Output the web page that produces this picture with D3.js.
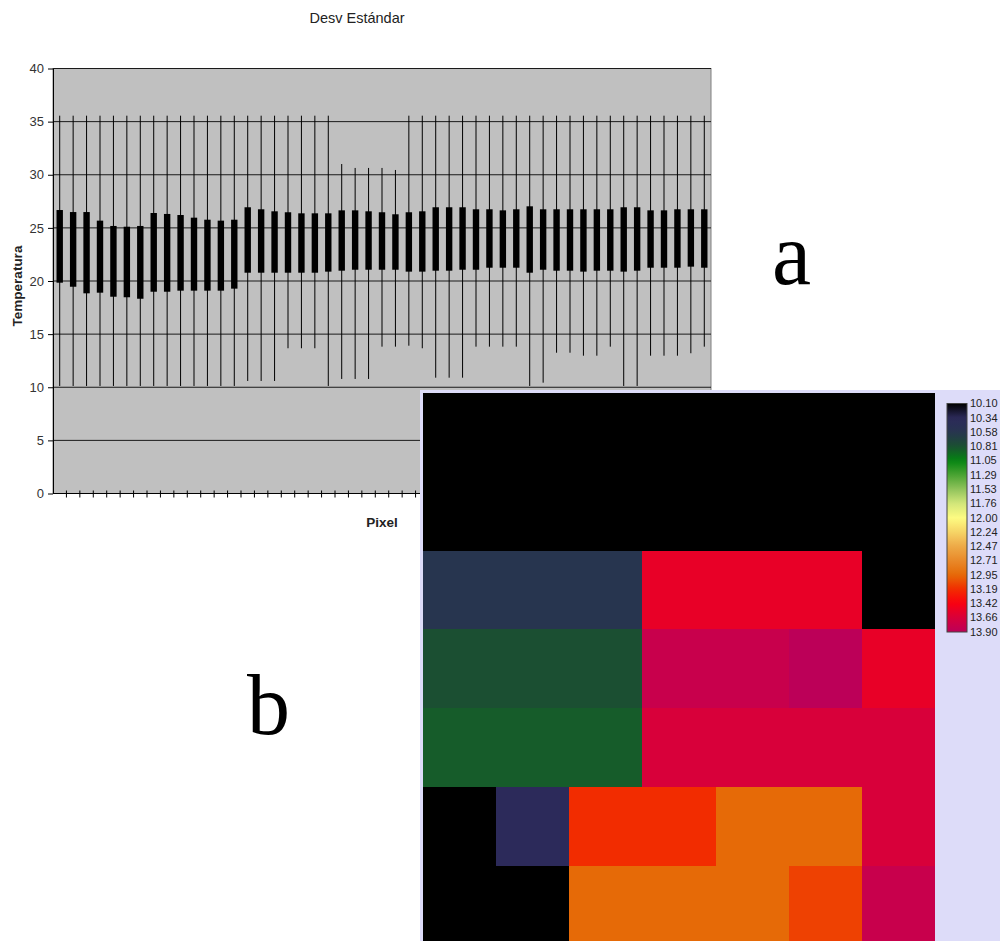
<!DOCTYPE html>
<html>
<head>
<meta charset="utf-8">
<script src="https://cdn.jsdelivr.net/npm/d3@7"></script>
<style>
  html, body { margin: 0; padding: 0; background: #fff; }
  svg { display: block; }
</style>
</head>
<body>
<svg id="fig" width="1000" height="941"></svg>
<script>
// ---- Panel a: temperature per pixel: range (min–max) and mean ± standard deviation ----
const pixels = d3.range(1, 50);
const maxTemp = [35.56,35.56,35.56,35.56,35.56,35.56,35.56,35.56,35.56,35.56,35.56,35.56,35.56,35.56,
                 35.56,35.56,35.56,35.56,35.56,35.56,35.56,31.01,30.64,30.64,30.64,30.45,35.56,35.56,
                 35.56,35.56,35.56,35.56,35.56,35.56,35.56,35.56,35.56,35.56,35.56,35.56,35.56,35.56,
                 35.56,35.56,35.56,35.56,35.56,35.56,35.56];
const minTemp = [10.12,10.12,10.12,10.12,10.12,10.12,10.12,10.12,10.12,10.12,10.12,10.12,10.12,10.12,
                 10.59,10.59,10.59,13.67,13.67,13.67,10.12,10.78,10.78,10.78,13.82,13.82,13.91,13.67,
                 10.90,10.90,10.90,13.82,13.82,13.82,13.82,10.12,10.43,13.25,13.25,12.97,12.97,13.82,
                 10.12,10.12,12.97,12.97,12.97,13.20,13.82];
const sdUpper = [26.68,26.49,26.49,25.68,25.18,25.11,25.18,26.40,26.31,26.21,25.96,25.77,25.68,25.77,
                 26.94,26.75,26.56,26.47,26.37,26.37,26.37,26.65,26.65,26.56,26.47,26.28,26.47,26.56,
                 26.94,26.94,26.94,26.75,26.75,26.65,26.75,27.03,26.75,26.75,26.75,26.75,26.75,26.75,
                 26.94,26.94,26.65,26.65,26.75,26.75,26.75];
const sdLower = [19.84,19.46,18.84,18.90,18.52,18.47,18.33,18.99,18.99,19.09,19.09,19.09,19.09,19.28,
                 20.78,20.78,20.78,20.78,20.78,20.78,20.88,20.97,21.06,21.06,21.06,21.06,20.88,20.88,
                 20.97,20.97,21.06,21.06,21.25,21.25,21.25,20.78,21.06,20.97,20.97,20.88,20.97,20.97,
                 20.88,20.97,21.25,21.25,21.25,21.35,21.25];
const yTicks = [0, 5, 10, 15, 20, 25, 30, 35, 40];

// ---- Panel b: standard-deviation map (7 × 7 pixel grid) ----
const mapRows = [
  [10.10,10.10,10.10,10.10,10.10,10.10,10.10],
  [10.10,10.10,10.10,10.10,10.10,10.10,10.10],
  [10.58,10.58,10.58,13.55,13.55,13.55,10.10],
  [10.81,10.81,10.81,13.80,13.80,13.90,13.55],
  [10.87,10.87,10.87,13.66,13.66,13.66,13.66],
  [10.10,10.34,13.19,13.19,12.95,12.95,13.66],
  [10.10,10.10,12.95,12.95,12.95,13.11,13.80]
];
const legendValues = [10.10,10.34,10.58,10.81,11.05,11.29,11.53,11.76,12.00,12.24,12.47,12.71,12.95,13.19,13.42,13.66,13.90];
const legendLabels = ["10.10","10.34","10.58","10.81","11.05","11.29","11.53","11.76","12.00","12.24","12.47","12.71","12.95","13.19","13.42","13.66","13.90"];
const legendColors = ["#000000","#2c2a5a","#27354f","#1b4f32","#058512","#4aa332","#92c45c","#d2e67a","#fdfb82",
                      "#f6d466","#eeaa48","#e88a2a","#e66a07","#f22c00","#fa0010","#d8003a","#bc0058"];

const svg = d3.select("#fig");
const sans = "'Liberation Sans', Arial, sans-serif";

// ================= Panel a =================
const plot = { left: 53, right: 711, top: 68.5, bottom: 493.5 };
const x = d3.scaleBand().domain(pixels).range([plot.left, plot.right]).paddingInner(0).paddingOuter(0);
const y = d3.scaleLinear().domain([0, 40]).range([plot.bottom, plot.top]);
const cx = p => x(p) + x.bandwidth() / 2;

const gA = svg.append("g");

gA.append("rect")
  .attr("x", plot.left).attr("y", plot.top)
  .attr("width", plot.right - plot.left).attr("height", plot.bottom - plot.top)
  .attr("fill", "#c0c0c0").attr("stroke", "#808080").attr("stroke-width", 1);

// horizontal gridlines
gA.append("g").selectAll("line").data(yTicks.filter(t => t > 0)).join("line")
  .attr("x1", plot.left).attr("x2", plot.right)
  .attr("y1", d => y(d)).attr("y2", d => y(d))
  .attr("stroke", "#1a1a1a").attr("stroke-width", 1);

// min–max whiskers
gA.append("g").selectAll("line").data(pixels).join("line")
  .attr("x1", (p) => cx(p)).attr("x2", (p) => cx(p))
  .attr("y1", (p, i) => y(maxTemp[i])).attr("y2", (p, i) => y(minTemp[i]))
  .attr("stroke", "#000").attr("stroke-width", 1);

// mean ± SD bodies
const bodyW = 6.4;
gA.append("g").selectAll("rect").data(pixels).join("rect")
  .attr("x", p => cx(p) - bodyW / 2).attr("width", bodyW)
  .attr("y", (p, i) => y(sdUpper[i]))
  .attr("height", (p, i) => y(sdLower[i]) - y(sdUpper[i]))
  .attr("fill", "#000");

// y axis
const yAxis = d3.axisLeft(y).tickValues(yTicks).tickSize(5).tickPadding(4).tickSizeOuter(0);
const gy = gA.append("g").attr("transform", `translate(${plot.left},0)`).call(yAxis);
gy.select(".domain").attr("stroke", "#000");
gy.selectAll(".tick line").attr("stroke", "#000");
gy.selectAll(".tick text").attr("font-family", sans).attr("font-size", 13).attr("fill", "#333");

// x axis: baseline plus ticks crossing it at every category boundary
gA.append("line")
  .attr("x1", plot.left).attr("x2", plot.right)
  .attr("y1", plot.bottom).attr("y2", plot.bottom)
  .attr("stroke", "#000");
const boundaries = pixels.map(p => x(p)).concat([plot.right]).slice(1);
gA.append("g").selectAll("line").data(boundaries).join("line")
  .attr("x1", d => d).attr("x2", d => d)
  .attr("y1", plot.bottom - 3).attr("y2", plot.bottom + 4)
  .attr("stroke", "#000");

// titles
gA.append("text").attr("x", (plot.left + plot.right) / 2 - 25).attr("y", 22.5)
  .attr("text-anchor", "middle").attr("font-family", sans).attr("font-size", 14.5)
  .attr("fill", "#222").text("Desv Estándar");
gA.append("text").attr("x", (plot.left + plot.right) / 2).attr("y", 527)
  .attr("text-anchor", "middle").attr("font-family", sans).attr("font-size", 13.5)
  .attr("font-weight", "bold").attr("fill", "#222").text("Pixel");
gA.append("text").attr("transform", `translate(22,${(plot.top + plot.bottom) / 2 + 5}) rotate(-90)`)
  .attr("text-anchor", "middle").attr("font-family", sans).attr("font-size", 13.5)
  .attr("font-weight", "bold").attr("fill", "#222").text("Temperatura");

// ================= Panel b =================
const panel = { x: 420, y: 390 };
svg.append("rect").attr("x", panel.x).attr("y", panel.y)
  .attr("width", 1000 - panel.x).attr("height", 941 - panel.y)
  .attr("fill", "#dddcf9");

const color = d3.scaleLinear().domain(legendValues).range(legendColors)
  .interpolate(d3.interpolateRgb).clamp(true);

const nCols = mapRows[0].length, nRows = mapRows.length;
const mx = d3.scaleBand().domain(d3.range(nCols)).range([422.8, 935.2]);
const my = d3.scaleBand().domain(d3.range(nRows)).range([392.7, 392.7 + 78.9 * nRows]);

const cells = [];
mapRows.forEach((row, r) => row.forEach((v, c) => cells.push({ r, c, v })));
svg.append("g").attr("shape-rendering", "crispEdges")
  .selectAll("rect").data(cells).join("rect")
  .attr("x", d => Math.round(mx(d.c))).attr("y", d => Math.round(my(d.r)))
  .attr("width", d => Math.round(mx(d.c) + mx.bandwidth()) - Math.round(mx(d.c)))
  .attr("height", d => Math.round(my(d.r) + my.bandwidth()) - Math.round(my(d.r)))
  .attr("fill", d => color(d.v));

// colour bar
const barX = 947, barW = 20;
const ly = d3.scaleLinear().domain([legendValues[0], legendValues[legendValues.length - 1]]).range([403.5, 632]);
const grad = svg.append("defs").append("linearGradient")
  .attr("id", "sdGrad").attr("x1", 0).attr("x2", 0).attr("y1", 0).attr("y2", 1);
grad.selectAll("stop").data(d3.range(0, 1.0001, 0.02)).join("stop")
  .attr("offset", t => t)
  .attr("stop-color", t => color(ly.invert(ly.range()[0] + t * (ly.range()[1] - ly.range()[0]))));
svg.append("rect").attr("x", barX).attr("y", ly.range()[0])
  .attr("width", barW).attr("height", ly.range()[1] - ly.range()[0])
  .attr("fill", "url(#sdGrad)").attr("stroke", "#444").attr("stroke-width", 1);
svg.append("g").selectAll("text").data(legendValues).join("text")
  .attr("x", barX + barW + 3).attr("y", d => ly(d))
  .attr("dy", "0.35em").attr("font-family", sans).attr("font-size", 11).attr("fill", "#222")
  .text((d, i) => legendLabels[i]);

// panel letters
svg.append("text").attr("x", 772).attr("y", 284)
  .attr("font-family", "'Liberation Serif', 'Times New Roman', serif").attr("font-size", 88)
  .attr("fill", "#000").text("a");
svg.append("text").attr("x", 247).attr("y", 734)
  .attr("font-family", "'Liberation Serif', 'Times New Roman', serif").attr("font-size", 86)
  .attr("fill", "#000").text("b");
</script>
</body>
</html>
